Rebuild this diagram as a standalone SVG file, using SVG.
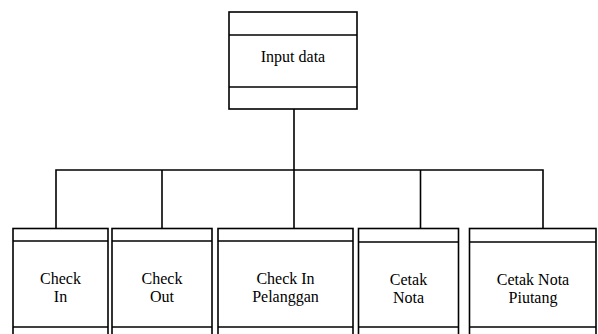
<svg xmlns="http://www.w3.org/2000/svg" width="598" height="334" viewBox="0 0 598 334">
<style>
.b{fill:#fff;stroke:#000;stroke-width:1.6}
.l{fill:none;stroke:#000;stroke-width:1.6}
text{font-family:'Liberation Serif','DejaVu Serif',serif;font-size:16px;fill:#000;text-anchor:middle}
</style>
<rect width="598" height="334" fill="#fff"/>
<g id="connectors">
<line class="l" x1="294" y1="109" x2="294" y2="170"/>
<polyline class="l" points="56,228 56,170 543,170 543,228"/>
<line class="l" x1="162" y1="170" x2="162" y2="228"/>
<line class="l" x1="294" y1="170" x2="294" y2="228"/>
<line class="l" x1="420.5" y1="170" x2="420.5" y2="228"/>
</g>
<g id="input-data">
<rect class="b" x="229" y="12" width="128" height="97"/>
<line class="l" x1="229" y1="35" x2="357" y2="35"/>
<line class="l" x1="229" y1="87" x2="357" y2="87"/>
<text x="293" y="62" font-family="Liberation Serif, serif">Input data</text>
</g>
<g id="check-in">
<rect class="b" x="13" y="228.5" width="95" height="112"/>
<line class="l" x1="13" y1="241" x2="108" y2="241"/>
<line class="l" x1="13" y1="327" x2="108" y2="327"/>
<text x="60.5" y="284" font-family="Liberation Serif, serif">Check</text>
<text x="60.5" y="302" font-family="Liberation Serif, serif">In</text>
</g>
<g id="check-out">
<rect class="b" x="112" y="228.5" width="100" height="112"/>
<line class="l" x1="112" y1="241" x2="212" y2="241"/>
<line class="l" x1="112" y1="327" x2="212" y2="327"/>
<text x="162" y="284" font-family="Liberation Serif, serif">Check</text>
<text x="162" y="302" font-family="Liberation Serif, serif">Out</text>
</g>
<g id="check-in-pelanggan">
<rect class="b" x="218" y="228.5" width="135" height="112"/>
<line class="l" x1="218" y1="241" x2="353" y2="241"/>
<line class="l" x1="218" y1="327" x2="353" y2="327"/>
<text x="285.5" y="284" font-family="Liberation Serif, serif">Check In</text>
<text x="285.5" y="302" font-family="Liberation Serif, serif">Pelanggan</text>
</g>
<g id="cetak-nota">
<rect class="b" x="358.5" y="228.5" width="100" height="112"/>
<line class="l" x1="358.5" y1="242" x2="458.5" y2="242"/>
<line class="l" x1="358.5" y1="327" x2="458.5" y2="327"/>
<text x="408.5" y="285" font-family="Liberation Serif, serif">Cetak</text>
<text x="408.5" y="303" font-family="Liberation Serif, serif">Nota</text>
</g>
<g id="cetak-nota-piutang">
<rect class="b" x="469.5" y="228.5" width="126.5" height="112"/>
<line class="l" x1="469.5" y1="242" x2="596" y2="242"/>
<line class="l" x1="469.5" y1="327" x2="596" y2="327"/>
<text x="533" y="285" font-family="Liberation Serif, serif">Cetak Nota</text>
<text x="533" y="303" font-family="Liberation Serif, serif">Piutang</text>
</g>
</svg>
